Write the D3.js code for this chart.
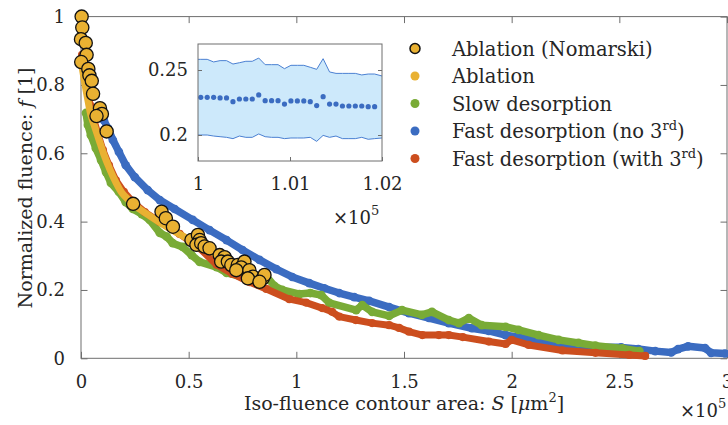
<!DOCTYPE html>
<html>
<head>
<meta charset="utf-8">
<script src="https://cdn.jsdelivr.net/npm/d3@7"></script>
<style>
  body { margin: 0; background: #fff; }
  text { font-family: "DejaVu Serif", "Liberation Serif", serif; fill: #262626; }
</style>
</head>
<body>
<div class="chart"></div>
<script>
// values (S in 1e5 um^2, f normalised)
const blueS = [0.106,0.125,0.148,0.176,0.208,0.250,0.310,0.366,0.435,0.519,0.597,0.676,0.750,0.829,0.907,0.981,1.060,1.130,1.199,1.269,1.338,1.431,1.523,1.616,1.708,1.815,1.894,1.972,2.032,2.125,2.218,2.310,2.403,2.509,2.588,2.667,2.741,2.773,2.819,2.898,2.926,2.991];
const blueF = [0.697,0.673,0.639,0.604,0.565,0.530,0.492,0.463,0.437,0.405,0.375,0.346,0.317,0.288,0.261,0.238,0.220,0.205,0.191,0.179,0.168,0.150,0.132,0.118,0.103,0.088,0.080,0.068,0.062,0.050,0.039,0.033,0.032,0.032,0.027,0.021,0.017,0.027,0.035,0.030,0.016,0.014];

const redS = [0.005,0.014,0.028,0.042,0.060,0.079,0.102,0.130,0.162,0.199,0.241,0.296,0.366,0.458,0.551,0.630,0.704,0.782,0.861,0.968,1.045,1.120,1.166,1.199,1.276,1.352,1.431,1.477,1.523,1.585,1.662,1.708,1.773,1.894,1.972,2.000,2.079,2.236,2.389,2.546,2.620];
const redF = [0.888,0.844,0.791,0.741,0.697,0.656,0.609,0.565,0.521,0.487,0.457,0.428,0.399,0.364,0.322,0.274,0.247,0.223,0.203,0.173,0.163,0.147,0.136,0.122,0.112,0.103,0.097,0.089,0.078,0.068,0.068,0.068,0.062,0.049,0.042,0.054,0.039,0.023,0.016,0.010,0.007];

const greenS = [0.023,0.032,0.046,0.069,0.093,0.116,0.139,0.176,0.208,0.241,0.282,0.319,0.366,0.398,0.426,0.472,0.514,0.551,0.630,0.676,0.782,0.861,0.898,0.935,1.014,1.065,1.116,1.153,1.278,1.306,1.352,1.431,1.491,1.583,1.630,1.708,1.755,1.801,1.861,1.972,2.032,2.125,2.218,2.310,2.389,2.514,2.593];
const greenF = [0.718,0.683,0.653,0.615,0.580,0.545,0.513,0.487,0.457,0.437,0.422,0.405,0.367,0.356,0.337,0.326,0.302,0.282,0.267,0.250,0.233,0.240,0.212,0.200,0.188,0.191,0.185,0.162,0.141,0.156,0.136,0.124,0.141,0.127,0.136,0.112,0.103,0.118,0.097,0.092,0.083,0.068,0.054,0.045,0.037,0.029,0.021];

const ablS = [0.002,0.009,0.019,0.032,0.046,0.065,0.083,0.106,0.134,0.162,0.190,0.222,0.259,0.319,0.398,0.481,0.551,0.630,0.704,0.782,0.852];
const ablF = [0.867,0.838,0.800,0.756,0.712,0.675,0.641,0.597,0.553,0.515,0.484,0.463,0.443,0.417,0.385,0.355,0.332,0.303,0.276,0.253,0.230];

const nomS = [0.003,0.006,0.000,0.022,0.026,0.001,0.034,0.039,0.050,0.056,0.088,0.097,0.072,0.119,0.242,0.374,0.394,0.427,0.513,0.543,0.551,0.536,0.558,0.574,0.597,0.644,0.667,0.651,0.682,0.698,0.728,0.759,0.744,0.721,0.782,0.798,0.775,0.844,0.852,0.829];
const nomF = [1.000,0.968,0.934,0.923,0.888,0.867,0.847,0.828,0.812,0.774,0.732,0.715,0.709,0.664,0.452,0.429,0.410,0.385,0.346,0.361,0.346,0.332,0.337,0.327,0.322,0.302,0.296,0.283,0.283,0.273,0.273,0.283,0.266,0.258,0.258,0.239,0.234,0.234,0.244,0.224];

// inset (x in 1e5 um^2)
const insetS = [1.0003,1.0010,1.0017,1.0024,1.0031,1.0038,1.0045,1.0052,1.0059,1.0066,1.0073,1.0080,1.0087,1.0094,1.0101,1.0108,1.0115,1.0122,1.0129,1.0136,1.0143,1.0150,1.0157,1.0164,1.0171,1.0178,1.0185,1.0192];
const insetF = [0.2290,0.2290,0.2290,0.2285,0.2285,0.2256,0.2277,0.2277,0.2277,0.2308,0.2264,0.2264,0.2264,0.2238,0.2262,0.2262,0.2262,0.2256,0.2226,0.2295,0.2238,0.2238,0.2223,0.2223,0.2223,0.2223,0.2218,0.2218];
const bandS = [1.0000].concat(insetS, [1.0200]);
const bandHi = [0.2582,0.2582,0.2582,0.2562,0.2572,0.2572,0.2546,0.2556,0.2567,0.2567,0.2592,0.2541,0.2541,0.2541,0.2510,0.2536,0.2536,0.2536,0.2521,0.2505,0.2587,0.2485,0.2474,0.2474,0.2474,0.2474,0.2462,0.2469,0.2469,0.2454];
const bandLo = [0.2000,0.2000,0.2000,0.1992,0.1987,0.1982,0.1972,0.1992,0.1982,0.1982,0.2008,0.1987,0.1982,0.1982,0.1972,0.1977,0.1977,0.1977,0.1982,0.1951,0.1997,0.1982,0.1992,0.1972,0.1972,0.1972,0.1982,0.1967,0.1972,0.1977];

const xTicks = [0,0.5,1,1.5,2,2.5,3];
const yTicks = [0,0.2,0.4,0.6,0.8,1];
const insetXTicks = [1,1.01,1.02];
const insetYTicks = [0.2,0.25];

const legendNames = ["Ablation (Nomarski)","Ablation","Slow desorption","Fast desorption (no 3","Fast desorption (with 3"];
const colors = {blue:"#3b6cc1", red:"#cc4e1e", green:"#79ab36", yellow:"#e9b132"};

const serif = '"DejaVu Serif", "Liberation Serif", serif';
const svg_width = 728, svg_height = 425;
const svg = d3.select(".chart").append("svg")
  .attr("width", svg_width).attr("height", svg_height);

const x = d3.scaleLinear([0,3],[81,727]);
const y = d3.scaleLinear([0,1],[358.3,16.6]);
const zip = (a,b) => a.map((v,i) => [v,b[i]]);

// axes box + inward ticks
const axisColor = "#6e6e6e";
function styleAxis(g){
  g.attr("font-family", serif);
  g.select(".domain").remove();
  g.selectAll(".tick line").attr("stroke", axisColor);
  g.selectAll(".tick text").attr("fill","#262626").style("font-size","18px");
}
svg.append("g").attr("transform","translate(0,358.3)")
  .call(d3.axisBottom(x).tickValues(xTicks).tickSizeInner(-6.5).tickSizeOuter(0).tickPadding(17).tickFormat(d3.format("~g")))
  .call(styleAxis);
svg.append("g").attr("transform","translate(0,16.6)")
  .call(d3.axisTop(x).tickValues(xTicks).tickSizeInner(-6.5).tickSizeOuter(0).tickFormat(""))
  .call(styleAxis);
svg.append("g").attr("transform","translate(81,0)")
  .call(d3.axisLeft(y).tickValues(yTicks).tickSizeInner(-6.5).tickSizeOuter(0).tickPadding(16).tickFormat(d3.format("~g")))
  .call(styleAxis);
svg.append("g").attr("transform","translate(727,0)")
  .call(d3.axisRight(y).tickValues(yTicks).tickSizeInner(-6.5).tickSizeOuter(0).tickFormat(""))
  .call(styleAxis);
svg.append("rect").attr("x",81).attr("y",16.6).attr("width",646).attr("height",341.7)
  .attr("fill","none").attr("stroke",axisColor).attr("stroke-width",1);

// series
const line = d3.line().x(d => x(d[0])).y(d => y(d[1]));
function band(S, F, color, w){
  svg.append("path").datum(zip(S,F)).attr("d", line)
    .attr("fill","none").attr("stroke",color).attr("stroke-width",w)
    .attr("stroke-linejoin","round").attr("stroke-linecap","round");
  svg.append("g").selectAll("circle").data(zip(S,F)).join("circle")
    .attr("cx", d => x(d[0])).attr("cy", d => y(d[1])).attr("r", w/2 + 0.6).attr("fill", color);
}
band(blueS, blueF, colors.blue, 7.5);
band(greenS, greenF, colors.green, 7.5);
band(redS, redF, colors.red, 7);
svg.append("path").datum(zip(ablS, ablF))
  .attr("d", d3.line().x(d => x(d[0])).y(d => y(d[1])).curve(d3.curveCatmullRom))
  .attr("fill","none").attr("stroke",colors.yellow).attr("stroke-width",7).attr("stroke-linecap","round");

svg.append("g").selectAll("circle").data(zip(nomS, nomF)).join("circle")
  .attr("cx", d => x(d[0])).attr("cy", d => y(d[1])).attr("r", 6.6)
  .attr("fill", colors.yellow).attr("stroke","#111").attr("stroke-width",1.3);

// x 10^5 for main axis
const mx = svg.append("text").attr("x",680).attr("y",417).style("font-size","18px");
mx.append("tspan").text("×10");
mx.append("tspan").attr("dy",-9).style("font-size","13px").text("5");

// axis labels
const xl = svg.append("text").attr("x",404).attr("y",410).attr("text-anchor","middle").style("font-size","19px");
xl.append("tspan").text("Iso-fluence contour area: ");
xl.append("tspan").style("font-style","italic").text("S");
xl.append("tspan").text(" [");
xl.append("tspan").style("font-style","italic").text("μ");
xl.append("tspan").text("m");
xl.append("tspan").attr("dy",-8).style("font-size","13px").text("2");
xl.append("tspan").attr("dy",8).text("]");

const yl = svg.append("text").attr("transform","translate(32,188) rotate(-90)").attr("text-anchor","middle").style("font-size","19px");
yl.append("tspan").text("Normalized fluence: ");
yl.append("tspan").style("font-style","italic").text("f");
yl.append("tspan").text(" [1]");

// inset
const xi = d3.scaleLinear([1,1.02],[198,382]);
const yi = d3.scaleLinear([0.18,0.27],[161,44]);
const inset = svg.append("g");
inset.append("rect").attr("x",198).attr("y",44).attr("width",184).attr("height",117).attr("fill","#fff");
const area = d3.area().x((d,i) => xi(bandS[i])).y0((d,i) => yi(bandLo[i])).y1((d,i) => yi(bandHi[i]));
inset.append("path").datum(bandS).attr("d", area).attr("fill","#cde9fb");
inset.append("path").datum(zip(bandS,bandHi)).attr("d", d3.line().x(d => xi(d[0])).y(d => yi(d[1])))
  .attr("fill","none").attr("stroke","#4a80d2").attr("stroke-width",1);
inset.append("path").datum(zip(bandS,bandLo)).attr("d", d3.line().x(d => xi(d[0])).y(d => yi(d[1])))
  .attr("fill","none").attr("stroke","#4a80d2").attr("stroke-width",1);
inset.append("g").selectAll("circle").data(zip(insetS, insetF)).join("circle")
  .attr("cx", d => xi(d[0])).attr("cy", d => yi(d[1])).attr("r", 2.6).attr("fill", colors.blue);

inset.append("g").attr("transform","translate(0,161)")
  .call(d3.axisBottom(xi).tickValues(insetXTicks).tickSizeInner(-4).tickSizeOuter(0).tickPadding(16).tickFormat(d3.format("~g")))
  .call(styleAxis);
inset.append("g").attr("transform","translate(198,0)")
  .call(d3.axisLeft(yi).tickValues(insetYTicks).tickSizeInner(-4).tickSizeOuter(0).tickPadding(10).tickFormat(d3.format("~g")))
  .call(styleAxis);
inset.append("g").attr("transform","translate(382,0)")
  .call(d3.axisRight(yi).tickValues(insetYTicks).tickSizeInner(-4).tickSizeOuter(0).tickFormat(""))
  .call(styleAxis);
inset.append("rect").attr("x",198).attr("y",44).attr("width",184).attr("height",117)
  .attr("fill","none").attr("stroke",axisColor).attr("stroke-width",1);
const ix = inset.append("text").attr("x",333).attr("y",224).style("font-size","18px");
ix.append("tspan").text("×10");
ix.append("tspan").attr("dy",-9).style("font-size","13px").text("5");

// legend
const legendY = [48.5,76,103.5,131,158.5];
const legendFill = [colors.yellow, colors.yellow, colors.green, colors.blue, colors.red];
const legend = svg.append("g");
legend.selectAll("circle").data(legendNames).join("circle")
  .attr("cx",415).attr("cy",(d,i) => legendY[i]).attr("r",(d,i) => i === 0 ? 5 : 4.5)
  .attr("fill",(d,i) => legendFill[i]).attr("stroke",(d,i) => i === 0 ? "#111" : "none").attr("stroke-width",1.5);
legendNames.forEach((name,i) => {
  const t = legend.append("text").attr("x",452).attr("y",legendY[i] + 7).style("font-size","19.5px");
  t.append("tspan").text(name);
  if (i >= 3) {
    t.append("tspan").attr("dy",-8).style("font-size","13px").text("rd");
    t.append("tspan").attr("dy",8).text(")");
  }
});
</script>
</body>
</html>
